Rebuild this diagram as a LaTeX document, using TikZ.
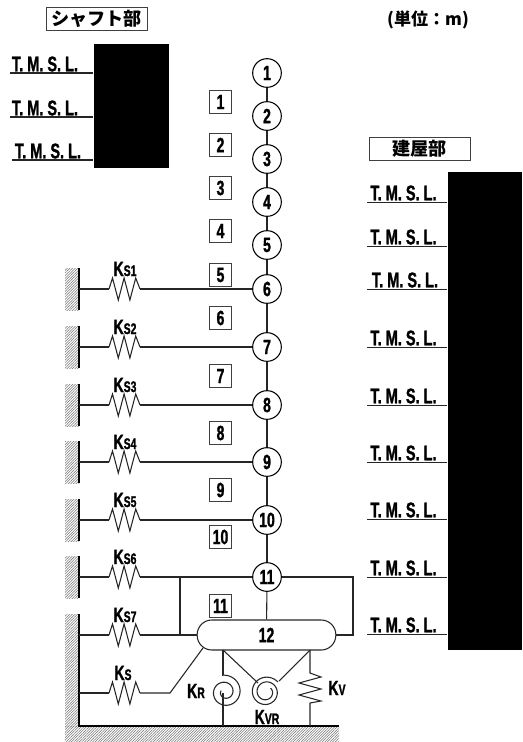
\documentclass[tikz,border=0pt]{standalone}
\usepackage{fontspec}
\setmainfont{Liberation Sans}[FakeStretch=0.68, BoldFeatures={FakeBold=1.2}]
\newfontfamily\jpfont{Noto Sans CJK JP}
\usetikzlibrary{patterns.meta}

\tikzset{
    lbl/.style={font=\bfseries\fontsize{15.5}{16}\selectfont, inner sep=0pt},
    masspt/.style={circle, draw, thick, fill=white, minimum size=21.5pt, inner sep=0pt, lbl},
    memberbox/.style={draw, thick, black!75, text=black, minimum size=17pt, inner sep=0pt, lbl},
    titlebox/.style={draw, black!75, text=black, minimum height=17.5pt, minimum width=75.5pt, inner sep=0pt,
        font=\jpfont\bfseries\fontsize{13.6}{14}\selectfont},
    level/.style={lbl, font=\bfseries\fontsize{16}{17}\selectfont},
    sub/.style={font=\bfseries\fontsize{15.5}{16}\selectfont},
    hatched/.style={pattern={Lines[angle=45,distance=1.4pt,line width=.4pt]}, pattern color=black!55},
    beam/.style={thick, black!85},
    ressort/.pic={
        \draw[beam, line join=miter] (-15.5,0) -- ++(3.5,-11) -- ++(5.8,22) -- ++(5.8,-22) -- ++(5.8,22) -- ++(5.8,-22) -- (15.5,0);
    }
}
\newcommand{\smallsub}[1]{{\fontsize{11.5}{12}\selectfont #1}}

\begin{document}
\begin{tikzpicture}[x=0.75pt, y=-0.75pt]
    \useasboundingbox (0,0) rectangle (522,742);

    % Black blocks
    \fill (94,44) rectangle (169,168);
    \fill (448,172) rectangle (522,650);

    % Titles
    \node[titlebox] (shaft) at (96.5,19) {シャフト部};
    \node[titlebox] (bldg) at (419.5,148.5) {建屋部};
    \node[font=\jpfont\bfseries\fontsize{12.8}{13}\selectfont] (unit) at (428,20) {(単位：m)};

    % Levels, left
    \foreach \x/\y/\a/\b in {45/64/10/93, 45/108/10/93, 48/151/12/93}{
        \node[level] at (\x,\y) {T. M. S. L.};
        \draw[thick, black!85] (\a,\y+9) -- (\b,\y+9);
    }
    % Levels, right
    \foreach \x/\y in {403.5/193, 403.5/237, 405/280, 403.5/338, 403.5/396, 403.5/453, 403.5/510, 403.5/568, 403.5/625}{
        \node[level] at (\x,\y) {T. M. S. L.};
        \draw[thick, black!85] (367,\y+9.5) -- (447,\y+9.5);
    }

    % Mass points
    \foreach \n/\y in {1/73, 2/116, 3/159, 4/202, 5/245, 6/289, 7/347, 8/405, 9/462, 10/520, 11/577}{
        \node[masspt] (n\n) at (267,\y) {\n};
    }
    \node[draw, thick, black!85, text=black, rounded corners=11pt, minimum width=104pt, minimum height=22.5pt, inner sep=0pt, lbl] (n12) at (266.5,635) {12};

    % Members
    \foreach \n/\y in {1/102, 2/145, 3/188, 4/231, 5/275, 6/318, 7/376, 8/433, 9/490, 10/537, 11/606}{
        \node[memberbox] (m\n) at (220.5,\y) {\n};
    }

    % Stick
    \foreach \a/\b in {1/2, 2/3, 3/4, 4/5, 5/6, 6/7, 7/8, 8/9, 9/10, 10/11, 11/12}{
        \draw[beam] (n\a) -- (n\b);
    }

    % Walls
    \foreach \y in {289, 347, 405, 462, 520, 577}{
        \fill[hatched] (65,\y-21) rectangle (79,\y+21);
        \draw[thick] (79,\y-21) -- (79,\y+21);
    }
    \fill[hatched] (65,614) rectangle (79,726);
    \fill[hatched] (65,726) rectangle (339,742);
    \draw[thick] (79,614) -- (79,726) -- (339,726);

    % Horizontal springs
    \foreach \n/\y/\lab in {6/289/S1, 7/347/S2, 8/405/S3, 9/462/S4, 10/520/S5, 11/577/S6}{
        \coordinate (w\n) at (79,\y);
        \draw[beam] (w\n) -- (109,\y);
        \pic at (124.5,\y) {ressort};
        \draw[beam] (140,\y) -- (n\n);
        \node[lbl] at (125,\y-20) {K\smallsub{\lab}};
    }
    \coordinate (w12) at (79,635);
    \draw[beam] (w12) -- (109,635);
    \pic at (124.5,635) {ressort};
    \draw[beam] (140,635) -- (n12);
    \node[lbl] at (125,615) {K\smallsub{S7}};

    \coordinate (w13) at (79,693);
    \coordinate (c13) at (170,693);
    \coordinate (a13) at (203,648);
    \draw[beam] (w13) -- (109,693);
    \pic at (124.5,693) {ressort};
    \draw[beam] (140,693) -- (c13) -- (a13);
    \node[lbl] at (123,673) {K\smallsub{S}};

    % Frame round mass point 11
    \draw[beam] (180,577) -- (180,635);
    \draw[beam] (n11) -- (353,577) -- (353,635) -- (n12);

    % Rotational springs
    \coordinate (kr) at (223,650);
    \coordinate (kv) at (310,650);
    \draw[beam] (kr) -- (223,675);
    \draw[thick, black!85, smooth, domain=-100:560, samples=80] plot ({225+(17-13*(\x+100)/660)*cos(\x)}, {692+(17-13*(\x+100)/660)*sin(\x)});
    \draw[beam] (223,693) -- (223,726);

    \draw[beam] (kr) -- (258,683);
    \draw[beam] (kv) -- (279,681);
    \draw[thick, black!85, smooth, domain=-40:-760, samples=80] plot ({266+(15.5-9.5*(-40-\x)/720)*cos(\x)}, {692+(15.5-9.5*(-40-\x)/720)*sin(\x)});

    % Vertical spring
    \draw[beam, line join=miter] (kv) -- (310,673) -- (321,677) -- (299,683) -- (321,689) -- (299,695) -- (321,701) -- (310,703) -- (310,726);

    % Spring names
    \node[lbl] at (196,691) {K\smallsub{R}};
    \node[lbl] at (267,717) {K\smallsub{VR}};
    \node[lbl] at (337,688) {K\smallsub{V}};
\end{tikzpicture}
\end{document}
